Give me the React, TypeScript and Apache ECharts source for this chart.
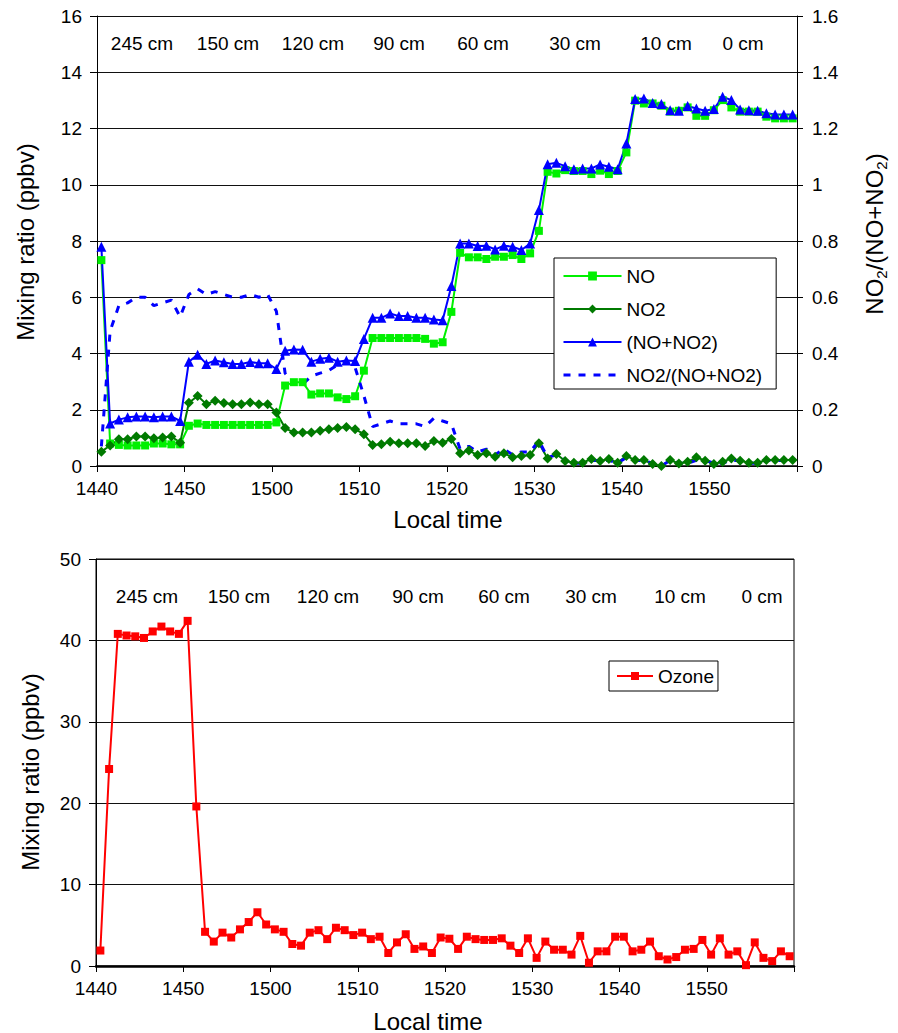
import React, { useEffect, useRef } from "react";
import * as echarts from "echarts";

const FONT = '"Liberation Sans", Arial, Helvetica, sans-serif';

// x tick labels (local time), one per 10-minute tick; last tick unlabeled
const TIME_LABELS = ["1440", "1450", "1500", "1510", "1520", "1530", "1540", "1550", ""];
// inlet heights annotated along the top of each panel
const HEIGHT_LABELS = ["245 cm", "150 cm", "120 cm", "90 cm", "60 cm", "30 cm", "10 cm", "0 cm"];

// one value per minute, 80 minutes (14:40 – 16:00)
const NO = [
  7.32, 0.8, 0.75, 0.73, 0.73, 0.73, 0.8, 0.8, 0.77, 0.77,
  1.43, 1.51, 1.46, 1.46, 1.46, 1.46, 1.46, 1.46, 1.46, 1.46,
  1.55, 2.86, 2.98, 2.98, 2.54, 2.58, 2.58, 2.44, 2.38, 2.48,
  3.39, 4.55, 4.55, 4.55, 4.55, 4.55, 4.55, 4.52, 4.35, 4.4,
  5.48, 7.58, 7.42, 7.42, 7.36, 7.44, 7.44, 7.5, 7.36, 7.56,
  8.36, 10.46, 10.4, 10.52, 10.49, 10.49, 10.38, 10.5, 10.38, 10.49,
  11.15, 12.99, 12.89, 12.89, 12.81, 12.6, 12.63, 12.75, 12.45, 12.45,
  12.65, 13.01, 12.75, 12.6, 12.6, 12.6, 12.42, 12.36, 12.36, 12.36,
];
const NO2 = [
  0.51, 0.73, 0.95, 0.95, 1.05, 1.05, 0.99, 1.01, 1.05, 0.83,
  2.25, 2.49, 2.2, 2.32, 2.24, 2.2, 2.2, 2.26, 2.2, 2.2,
  1.9, 1.35, 1.19, 1.19, 1.19, 1.25, 1.31, 1.35, 1.39, 1.31,
  1.13, 0.75, 0.77, 0.86, 0.81, 0.81, 0.81, 0.71, 0.89, 0.83,
  0.96, 0.45, 0.55, 0.39, 0.45, 0.33, 0.45, 0.31, 0.36, 0.39,
  0.81, 0.27, 0.43, 0.18, 0.12, 0.12, 0.25, 0.18, 0.25, 0.12,
  0.36, 0.21, 0.21, 0.07, 0.0, 0.21, 0.09, 0.15, 0.31, 0.19,
  0.07, 0.15, 0.27, 0.19, 0.12, 0.12, 0.21, 0.21, 0.21, 0.21,
];
const NOX = [
  7.8, 1.51, 1.65, 1.73, 1.76, 1.76, 1.73, 1.76, 1.76, 1.6,
  3.71, 3.96, 3.63, 3.75, 3.69, 3.63, 3.63, 3.7, 3.65, 3.65,
  3.45, 4.1, 4.14, 4.13, 3.71, 3.81, 3.85, 3.71, 3.75, 3.73,
  4.52, 5.27, 5.27, 5.42, 5.33, 5.33, 5.27, 5.27, 5.21, 5.18,
  6.4, 7.91, 7.91, 7.82, 7.83, 7.7, 7.83, 7.8, 7.68, 7.91,
  9.1, 10.73, 10.78, 10.66, 10.55, 10.58, 10.58, 10.72, 10.64, 10.55,
  11.47, 13.05, 13.07, 12.91, 12.87, 12.65, 12.63, 12.8, 12.71, 12.63,
  12.69, 13.13, 13.01, 12.68, 12.65, 12.63, 12.54, 12.5, 12.5, 12.5,
];
const RATIO = [
  0.07, 0.48, 0.57, 0.58, 0.6, 0.6, 0.57, 0.58, 0.59, 0.53,
  0.61, 0.63, 0.61, 0.62, 0.61, 0.6, 0.6, 0.61, 0.6, 0.61,
  0.55, 0.33, 0.29, 0.29, 0.32, 0.33, 0.34, 0.36, 0.37, 0.35,
  0.25, 0.14, 0.15, 0.16, 0.15, 0.15, 0.15, 0.14, 0.17, 0.16,
  0.15, 0.06, 0.07, 0.05, 0.06, 0.04, 0.06, 0.04, 0.05, 0.05,
  0.09, 0.03, 0.04, 0.02, 0.01, 0.01, 0.02, 0.02, 0.02, 0.01,
  0.03, 0.02, 0.02, 0.01, 0.0, 0.02, 0.01, 0.01, 0.02, 0.02,
  0.01, 0.01, 0.02, 0.02, 0.01, 0.01, 0.02, 0.02, 0.02, 0.02,
];
const OZONE = [
  1.9, 24.2, 40.8, 40.6, 40.5, 40.3, 41.1, 41.7, 41.1, 40.8,
  42.4, 19.6, 4.2, 3.0, 4.1, 3.5, 4.5, 5.4, 6.6, 5.1,
  4.5, 4.2, 2.7, 2.5, 4.1, 4.4, 3.3, 4.7, 4.4, 3.8,
  4.1, 3.3, 3.6, 1.6, 2.9, 3.9, 2.1, 2.4, 1.6, 3.5,
  3.35, 2.1, 3.6, 3.3, 3.2, 3.2, 3.4, 2.5, 1.6, 3.4,
  1.0, 3.0, 2.0, 2.0, 1.4, 3.7, 0.4, 1.8, 1.8, 3.6,
  3.6, 1.8, 2.0, 3.0, 1.2, 0.8, 1.1, 2.0, 2.1, 3.2,
  1.4, 3.4, 1.4, 1.8, 0.1, 2.9, 1.0, 0.6, 1.8, 1.2,
];

// layout (pixels)
const TOP_HEIGHT_X = [142, 228, 313, 399, 483, 575, 666, 743];
const BOTTOM_HEIGHT_X = [147, 239, 328, 418, 504, 591, 680, 762];

const toXY = (arr: number[]) => arr.map((v, i) => [i + 0.5, v]);

const axisText = { fontSize: 19, fontFamily: FONT, color: "#000" };
const blackLine = { color: "#000", width: 1 };

function makeX(gridIndex: number, width: number) {
  return {
    type: "value",
    gridIndex,
    min: 0,
    max: 80,
    interval: 10,
    axisLine: { show: true, onZero: false, lineStyle: { color: "#000", width } },
    axisTick: { show: true, length: 6, lineStyle: blackLine },
    axisLabel: {
      ...axisText,
      margin: 13,
      formatter: (v: number) => TIME_LABELS[Math.round(v / 10)] ?? "",
    },
    splitLine: { show: false },
  };
}

function plainText(text: string, x: number, y: number, size: number, rotation = 0) {
  return {
    type: "text",
    x,
    y,
    rotation,
    silent: true,
    style: {
      text,
      fill: "#000",
      fontSize: size,
      fontFamily: FONT,
      align: "center",
      verticalAlign: "middle",
    },
  };
}

export default function App() {
  const ref = useRef<HTMLDivElement>(null);

  useEffect(() => {
    if (!ref.current) return;
    const chart = echarts.init(ref.current, null, { renderer: "svg" });

    const graphics: any[] = [];
    HEIGHT_LABELS.forEach((t, i) => {
      graphics.push(plainText(t, TOP_HEIGHT_X[i], 43, 19));
      graphics.push(plainText(t, BOTTOM_HEIGHT_X[i], 596, 19));
    });
    graphics.push(plainText("Mixing ratio (ppbv)", 25, 242, 24, Math.PI / 2));
    graphics.push(plainText("Mixing ratio (ppbv)", 30, 772, 24, Math.PI / 2));
    graphics.push(plainText("Local time", 448, 519, 24));
    graphics.push(plainText("Local time", 428, 1021, 24));
    graphics.push({
      type: "text",
      x: 874,
      y: 234,
      rotation: Math.PI / 2,
      silent: true,
      style: {
        text: "{a|NO}{s|2}{a|/(NO+NO}{s|2}{a|)}",
        align: "center",
        verticalAlign: "middle",
        fill: "#000",
        fontSize: 24,
        fontFamily: FONT,
        rich: {
          a: { fontSize: 24, fontFamily: FONT, fill: "#000", color: "#000", lineHeight: 30 },
          s: { fontSize: 15, fontFamily: FONT, fill: "#000", color: "#000", lineHeight: 15, verticalAlign: "bottom" },
        },
      },
    });

    const option: any = {
      animation: false,
      backgroundColor: "#fff",
      grid: [
        { left: 97, top: 16, width: 700, height: 450, show: false },
        { left: 96, top: 559, width: 698, height: 407, show: true, borderColor: "#000", borderWidth: 1, backgroundColor: "transparent" },
      ],
      xAxis: [makeX(0, 1.5), makeX(1, 2.5)],
      yAxis: [
        {
          type: "value",
          gridIndex: 0,
          position: "left",
          min: 0,
          max: 16,
          interval: 2,
          axisLine: { show: true, lineStyle: blackLine },
          axisTick: { show: true, length: 7, lineStyle: blackLine },
          axisLabel: { ...axisText, margin: 15 },
          splitLine: { show: true, lineStyle: { color: "#111", width: 1 } },
        },
        {
          type: "value",
          gridIndex: 0,
          position: "right",
          min: 0,
          max: 1.6,
          interval: 0.2,
          axisLine: { show: true, lineStyle: blackLine },
          axisTick: { show: true, length: 6, lineStyle: blackLine },
          axisLabel: { ...axisText, margin: 15 },
          splitLine: { show: false },
        },
        {
          type: "value",
          gridIndex: 1,
          position: "left",
          min: 0,
          max: 50,
          interval: 10,
          axisLine: { show: true, lineStyle: blackLine },
          axisTick: { show: true, length: 7, lineStyle: blackLine },
          axisLabel: { ...axisText, margin: 15 },
          splitLine: { show: true, lineStyle: { color: "#111", width: 1 } },
        },
      ],
      legend: [
        {
          left: 554,
          top: 258,
          orient: "vertical",
          itemWidth: 58,
          itemHeight: 11,
          itemGap: 13,
          padding: [8, 14, 4, 8],
          borderColor: "#000",
          borderWidth: 1,
          backgroundColor: "#fff",
          selectedMode: false,
          textStyle: { fontSize: 19, fontFamily: FONT, color: "#000", lineHeight: 20 },
          data: [
            { name: "NO" },
            { name: "NO2" },
            { name: "(NO+NO2)" },
            { name: "NO2/(NO+NO2)", itemStyle: { opacity: 0 }, lineStyle: { width: 3 } },
          ],
        },
        {
          left: 609,
          top: 661,
          orient: "vertical",
          itemWidth: 36,
          itemHeight: 10,
          padding: [5, 4, 5, 7],
          borderColor: "#000",
          borderWidth: 1,
          backgroundColor: "#fff",
          selectedMode: false,
          textStyle: { fontSize: 19, fontFamily: FONT, color: "#000", lineHeight: 20 },
          data: [{ name: "Ozone" }],
        },
      ],
      graphic: graphics,
      series: [
        {
          name: "NO",
          type: "line",
          xAxisIndex: 0,
          yAxisIndex: 0,
          data: toXY(NO),
          color: "#00F000",
          symbol: "rect",
          symbolSize: 8,
          lineStyle: { width: 2, color: "#00F000" },
          itemStyle: { color: "#00F000" },
        },
        {
          name: "NO2",
          type: "line",
          xAxisIndex: 0,
          yAxisIndex: 0,
          data: toXY(NO2),
          color: "#007A00",
          symbol: "diamond",
          symbolSize: 10,
          lineStyle: { width: 2, color: "#007A00" },
          itemStyle: { color: "#007A00" },
        },
        {
          name: "(NO+NO2)",
          type: "line",
          xAxisIndex: 0,
          yAxisIndex: 0,
          data: toXY(NOX),
          color: "#0000FF",
          symbol: "triangle",
          symbolSize: 10,
          lineStyle: { width: 2, color: "#0000FF" },
          itemStyle: { color: "#0000FF" },
        },
        {
          name: "NO2/(NO+NO2)",
          type: "line",
          xAxisIndex: 0,
          yAxisIndex: 1,
          data: toXY(RATIO),
          color: "#0000FF",
          symbol: "none",
          lineStyle: { width: 3, color: "#0000FF", type: [7, 8] },
        },
        {
          name: "Ozone",
          type: "line",
          xAxisIndex: 1,
          yAxisIndex: 2,
          data: toXY(OZONE),
          color: "#FF0000",
          symbol: "rect",
          symbolSize: 8,
          lineStyle: { width: 2, color: "#FF0000" },
          itemStyle: { color: "#FF0000" },
        },
      ],
    };

    chart.setOption(option);
    return () => chart.dispose();
  }, []);

  return (
    <div
      ref={ref}
      style={{ position: "absolute", left: 0, top: 0, width: 898, height: 1033, background: "#fff" }}
    />
  );
}
